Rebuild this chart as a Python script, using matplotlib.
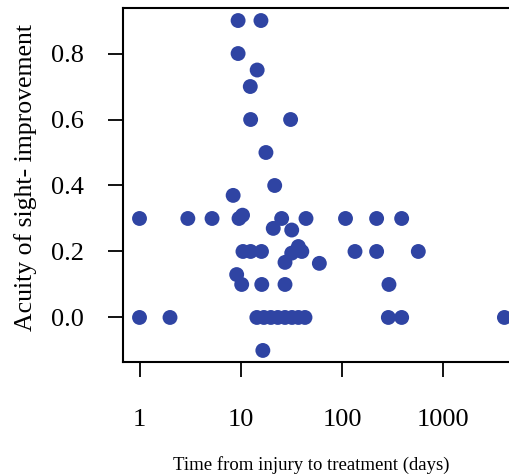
import numpy as np
import matplotlib
matplotlib.use("Agg")
import matplotlib.pyplot as plt

# days from injury to treatment, and improvement in acuity of sight
days = [
    9.4, 15.8, 9.4, 14.5, 12.4, 12.5, 31, 17.7, 21.6, 8.4,
    1, 3, 5.2, 9.6, 10.4, 25.3, 44, 108, 219, 387,
    20.9, 31.8, 37,
    10.5, 12.5, 16, 31.8, 40, 134, 219, 565,
    27.3, 59.6, 9.1,
    10.2, 16.1, 27.3, 290,
    1, 2, 14.4, 16.9, 19.8, 23.2, 27.3, 32, 37, 43, 286, 387, 4000,
    16.5,
]
improvement = [
    0.9, 0.9, 0.8, 0.75, 0.7, 0.6, 0.6, 0.5, 0.4, 0.37,
    0.3, 0.3, 0.3, 0.3, 0.31, 0.3, 0.3, 0.3, 0.3, 0.3,
    0.27, 0.265, 0.215,
    0.2, 0.2, 0.2, 0.195, 0.2, 0.2, 0.2, 0.2,
    0.167, 0.164, 0.13,
    0.1, 0.1, 0.1, 0.1,
    0.0, 0.0, 0.0, 0.0, 0.0, 0.0, 0.0, 0.0, 0.0, 0.0, 0.0, 0.0, 0.0,
    -0.1,
]
y_ticks = [0.0, 0.2, 0.4, 0.6, 0.8]
x_ticks = [1, 10, 100, 1000]

plt.rcParams["font.family"] = ["Liberation Serif", "DejaVu Serif"]

W, H = 509, 476
fig = plt.figure(figsize=(W / 100, H / 100), dpi=100)
# right spine falls outside the image, as in the original
ax = fig.add_axes([123 / W, 114 / H, (519 - 123) / W, 354 / H])

ax.scatter(days, improvement, s=115, color="#2f44a3", edgecolors="none", zorder=3)

ax.set_xscale("log")
ax.set_xlim(10 ** -0.163, 10 ** 3.746)
ax.set_ylim(-0.135, 0.938)
ax.set_xticks(x_ticks)
ax.set_xticklabels([str(v) for v in x_ticks])
ax.xaxis.set_minor_locator(matplotlib.ticker.NullLocator())
ax.set_yticks(y_ticks)
ax.set_yticklabels([f"{v:.1f}" for v in y_ticks])

for side in ["left", "top", "bottom", "right"]:
    ax.spines[side].set_linewidth(1.5)
ax.tick_params(length=11, width=1.3, labelsize=19)
ax.tick_params(axis="x", pad=23)
ax.tick_params(axis="y", pad=17)

ax.set_xlabel("Time from injury to treatment (days)", fontsize=13.5, labelpad=18)
ax.set_ylabel("Acuity of sight- improvement", fontsize=18.5, labelpad=10)
ax.xaxis.label.set_x(0.475)
ax.yaxis.label.set_y(0.52)

fig.savefig("out.png", dpi=100)
